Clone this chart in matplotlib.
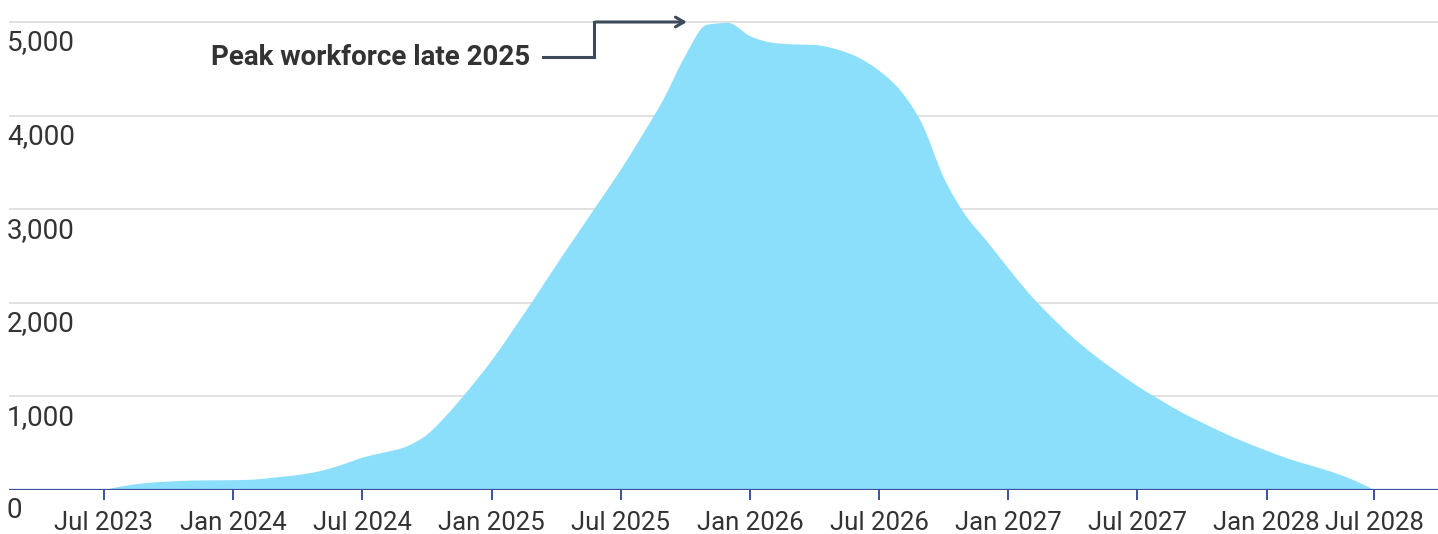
import numpy as np
import matplotlib
matplotlib.use('Agg')
from matplotlib import pyplot as plt
from matplotlib.path import Path
from matplotlib.patches import PathPatch

# months since Jul 2023
months = np.arange(0, 60)
workers = [0, 45, 75, 90, 100, 103, 105, 112, 135, 160,
           200, 265, 345, 400, 460, 590, 820, 1090, 1380, 1710,
           2050, 2400, 2740, 3080, 3420, 3790, 4180, 4640, 4970, 4990,
           4850, 4780, 4761, 4755, 4710, 4625, 4480, 4265, 3910, 3340,
           2940, 2660, 2370, 2090, 1850, 1630, 1440, 1270, 1110, 970,
           835, 720, 610, 510, 420, 335, 265, 195, 110, 0]

tick_pos = [0, 6, 12, 18, 24, 30, 36, 42, 48, 54, 59]
tick_labels = ['Jul 2023', 'Jan 2024', 'Jul 2024', 'Jan 2025', 'Jul 2025',
               'Jan 2026', 'Jul 2026', 'Jan 2027', 'Jul 2027', 'Jan 2028',
               'Jul 2028']
y_ticks = [0, 1000, 2000, 3000, 4000, 5000]

plt.rcParams['font.family'] = ['Roboto', 'DejaVu Sans']


def monotone_path(x, y):
    # smooth monotone cubic curve through the points (like d3 curveMonotoneX)
    x = np.asarray(x, float)
    y = np.asarray(y, float)
    h = np.diff(x)
    s = np.diff(y) / h
    t = np.zeros_like(y)
    for i in range(1, len(x) - 1):
        if s[i - 1] * s[i] <= 0:
            t[i] = 0
        else:
            p = (s[i - 1] * h[i] + s[i] * h[i - 1]) / (h[i - 1] + h[i])
            t[i] = np.sign(s[i - 1]) * min(abs(s[i - 1]), abs(s[i]), 0.5 * abs(p)) * 2
    t[0] = s[0]
    t[-1] = s[-1]
    verts = [(x[0], 0), (x[0], y[0])]
    codes = [Path.MOVETO, Path.LINETO]
    for i in range(len(x) - 1):
        d = h[i] / 3
        verts += [(x[i] + d, y[i] + d * t[i]), (x[i + 1] - d, y[i + 1] - d * t[i + 1]),
                  (x[i + 1], y[i + 1])]
        codes += [Path.CURVE4] * 3
    verts += [(x[-1], 0), (x[0], 0)]
    codes += [Path.LINETO, Path.CLOSEPOLY]
    return Path(verts, codes)


W, H = 1438, 534
fig = plt.figure(figsize=(W / 100, H / 100), dpi=100)
ax = fig.add_axes([9 / W, 44 / H, 1 - 9 / W, 480 / H])

px = 21.53  # pixels per month
ax.set_xlim(-95 / px, (W - 104) / px)
ax.set_ylim(0, 480 / 93.6 * 1000)

ax.add_patch(PathPatch(monotone_path(months, workers), facecolor='#8bdffa',
                       lw=0, zorder=2))

for v in y_ticks[1:]:
    ax.axhline(v, color='#dcdcdc', lw=1.2, zorder=1)
ax.axhline(0, color='#3d4f9f', lw=1.6, zorder=3)

for v in y_ticks:
    ax.annotate(f'{v:,}', xy=(0, v), xycoords=('axes fraction', 'data'),
                xytext=(-2, -21), textcoords='offset pixels',
                ha='left', va='center', fontsize=20, color='#333333')

ax.set_xticks(tick_pos)
ax.set_xticklabels(tick_labels, fontsize=18.5, color='#333333')
ax.tick_params(axis='x', length=7, width=1.4, color='#3d4f9f', pad=8)
ax.set_yticks([])
for s in ax.spines.values():
    s.set_visible(False)

# annotation for the peak
c = '#3d4a5a'
ax.plot([20.4, 22.76, 22.76], [4626, 4626, 5000], color=c, lw=2.2,
        solid_joinstyle='miter', zorder=4)
ax.annotate('', xy=(27.2, 5000), xytext=(22.7, 5000),
            arrowprops=dict(arrowstyle='->,head_length=0.6,head_width=0.35',
                            color=c, lw=2.2), zorder=4)
ax.text(19.8, 4626, 'Peak workforce late 2025', ha='right', va='center',
        fontsize=20, fontweight='semibold', color='#333333')

fig.savefig('out.png', dpi=100)
